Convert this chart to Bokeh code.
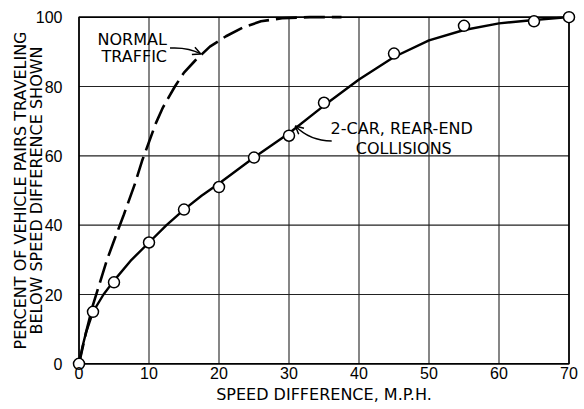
from bokeh.plotting import figure
from bokeh.models import Range1d, FixedTicker, Arrow, OpenHead
from bokeh.embed import file_html
from bokeh.resources import INLINE
from bokeh.core.properties import value

# ---- data ----
x_ticks = [0, 10, 20, 30, 40, 50, 60, 70]
y_ticks = [0, 20, 40, 60, 80, 100]

# observed points, 2-car rear-end collisions
collision_x = [0, 2, 5, 10, 15, 20, 25, 30, 35, 45, 55, 65, 70]
collision_y = [0, 15, 23.5, 35, 44.5, 51, 59.5, 65.8, 75.3, 89.5, 97.5, 98.8, 100]

# smooth fitted curve, 2-car rear-end collisions
collision_curve_x = [0, 0.5, 1, 2, 3.5, 5, 7.5, 10, 12.5, 15, 17.5, 20, 25, 30, 35, 40, 45, 50, 55, 60, 65, 70]
collision_curve_y = [0, 5, 9, 15, 20, 24, 30, 35, 40, 44.5, 48.5, 52, 59.5, 66.5, 74.5, 82, 88.5, 93.3, 96.3, 98.2, 99.2, 100]

# normal traffic (dashed)
normal_x = [0, 1, 2, 3, 4, 5, 6.4, 8, 9, 10, 11, 12, 13.7, 15, 16.6, 18.7, 21, 23.4, 26, 29, 33, 37.5]
normal_y = [0, 9, 17, 23.5, 30, 35.5, 43, 52, 58.5, 64, 69.5, 74, 80, 84, 87.5, 91.5, 94.5, 97, 98.8, 99.7, 100, 100]

TICK_FONT = "Liberation Sans"
TEXT_FONT = "DejaVu Sans"

p = figure(width=584, height=409, output_backend="svg", toolbar_location=None,
           x_range=Range1d(-1.5, 71.5), y_range=Range1d(-2.5, 102.5),
           min_border_left=68, min_border_right=5, min_border_top=8, min_border_bottom=37)
p.outline_line_color = None
p.background_fill_color = "white"
p.border_fill_color = "white"
p.xgrid.visible = False
p.ygrid.visible = False

x0, x1 = float(x_ticks[0]), float(x_ticks[-1])
y0, y1 = float(y_ticks[0]), float(y_ticks[-1])

# grid lines built from the tick arrays
grid_xs, grid_ys = [], []
for t in x_ticks[1:-1]:
    grid_xs.append([float(t), float(t)])
    grid_ys.append([y0, y1])
for t in y_ticks[1:-1]:
    grid_xs.append([x0, x1])
    grid_ys.append([float(t), float(t)])
p.multi_line(xs=grid_xs, ys=grid_ys, line_color="#222222", line_width=1.1)

# frame
p.multi_line(xs=[[x0, x1, x1, x0, x0]], ys=[[y0, y0, y1, y1, y0]],
             line_color="black", line_width=1.8)

# curves
p.line(normal_x, normal_y, line_color="black", line_width=2.6, line_dash="21 7")
p.line(collision_curve_x, collision_curve_y, line_color="black", line_width=2.4)
p.scatter(collision_x, collision_y, size=11, marker="circle",
          fill_color="white", line_color="black", line_width=1.5)

# annotations
p.text(x=[7.6, 7.9], y=[93.5, 88.6], text=["NORMAL", "TRAFFIC"],
       text_font=value(TEXT_FONT), text_font_size="16px", text_color="black",
       text_align="center", text_baseline="middle")
p.text(x=[46.1, 46.4], y=[68.0, 62.2], text=["2-CAR, REAR-END", "COLLISIONS"],
       text_font=value(TEXT_FONT), text_font_size="16px", text_color="black",
       text_align="center", text_baseline="middle")

p.quadratic(x0=[13.0], y0=[91.1], x1=[17.4], y1=[89.4], cx=[15.6], cy=[91.4],
            line_color="black", line_width=1.5)
p.add_layout(Arrow(end=OpenHead(size=8, line_width=1.5, line_color="black"),
                   x_start=16.2, y_start=90.4, x_end=17.4, y_end=89.4,
                   line_alpha=0))
p.quadratic(x0=[36.1], y0=[64.3], x1=[30.9], y1=[68.6], cx=[33.0], cy=[64.3],
            line_color="black", line_width=1.5)
p.add_layout(Arrow(end=OpenHead(size=8, line_width=1.5, line_color="black"),
                   x_start=31.7, y_start=67.2, x_end=30.9, y_end=68.6,
                   line_alpha=0))

# axes
p.xaxis.ticker = FixedTicker(ticks=x_ticks)
p.yaxis.ticker = FixedTicker(ticks=y_ticks)
for ax in (p.xaxis[0], p.yaxis[0]):
    ax.axis_line_color = None
    ax.major_tick_line_color = None
    ax.minor_tick_line_color = None
    ax.major_label_text_font = TICK_FONT
    ax.major_label_text_font_size = "16px"
    ax.major_label_text_color = "black"
    ax.axis_label_text_font = TEXT_FONT
    ax.axis_label_text_font_style = "normal"
    ax.axis_label_text_color = "black"

p.xaxis.axis_label = "SPEED DIFFERENCE, M.P.H."
p.xaxis.axis_label_text_font_size = "16px"
p.xaxis.major_label_standoff = -12
p.xaxis.axis_label_standoff = 3
p.yaxis.axis_label = "PERCENT OF VEHICLE PAIRS TRAVELING\nBELOW SPEED DIFFERENCE SHOWN"
p.yaxis.axis_label_text_font_size = "16px"
p.yaxis.axis_label_text_line_height = 0.82
p.yaxis.major_label_standoff = 0
p.yaxis.axis_label_standoff = -13

open("out.html", "w").write(file_html(p, INLINE))
